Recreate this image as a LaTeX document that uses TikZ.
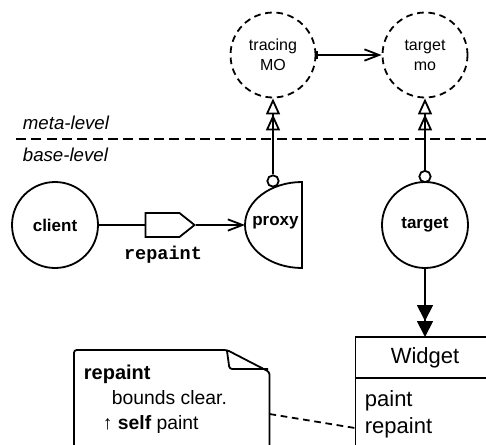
\documentclass[tikz,border=0pt]{standalone}
\usepackage{fontspec}
\setmainfont{Liberation Sans}
\setmonofont{Liberation Mono}
\usetikzlibrary{arrows.meta}
\usetikzlibrary{shapes.symbols}
\usetikzlibrary{positioning}
\usetikzlibrary{calc}

\begin{document}
\begin{tikzpicture}[x=0.75pt,y=0.75pt,yscale=-1,xscale=1,line width=1.35pt,
  obj/.style={circle,draw,minimum size=64.5pt,inner sep=0pt,font=\fontsize{12.75}{15}\selectfont\bfseries},
  metaobj/.style={circle,draw,dash pattern=on 5pt off 3.5pt,minimum size=63.75pt,inner sep=0pt,align=center,font=\fontsize{12}{15}\selectfont},
  lolly/.style={circle,draw,fill=white,minimum size=8.5pt,inner sep=0pt},
  metalink/.style={-{Triangle[open,length=12pt,width=10.5pt]Triangle[open,length=12pt,width=10.5pt]}},
  classlink/.style={-{Triangle[length=12pt,width=12pt]Triangle[length=12pt,width=12pt]}},
  barb/.style={-{Straight Barb[length=11pt,width=8.5pt]}},
  lvl/.style={anchor=base west,inner sep=0pt,font=\fontsize{14}{16}\selectfont\itshape},
  notetext/.style={anchor=base west,inner sep=0pt,font=\fontsize{14.5}{17}\selectfont},
  classtext/.style={anchor=base west,inner sep=0pt,font=\fontsize{16.5}{19}\selectfont}]
\useasboundingbox[fill=white] (0,0) rectangle (486,444);

%Shape: Circle (meta-level objects)
\node[metaobj] (tracing) at (273,55) {tracing\\MO};
\node[metaobj] (targetmo) at (425,55) {target\\mo};
%Straight Lines
\draw[{Bar[width=6pt]}-{Straight Barb[length=11pt,width=8.5pt]}] (tracing) -- (targetmo);

%Straight Lines (level separator)
\coordinate (sepl) at (16,139);
\coordinate (sepr) at (490,139);
\draw[dash pattern=on 7.5pt off 4pt] (sepl) -- (sepr);
% Text Node
\node[lvl] (metalbl) at (22,129) {meta-level};
% Text Node
\node[lvl] (baselbl) at (22,161) {base-level};

%Shape: Circle (base-level objects)
\node[obj] (client) at (55,225) {client};
\node[obj] (target) at (425,225) {target};
%Shape: Half Ellipse
\draw (302,182) arc[start angle=270,end angle=90,x radius=57,y radius=43] -- cycle;
\node[font=\fontsize{12.75}{15}\selectfont\bfseries,inner sep=0pt] (proxy) at (275.5,223) {proxy};
\coordinate (proxyw) at (245,225);

%Shape: Circle (meta links)
\node[lolly] (plolly) at (273,181) {};
\node[lolly] (tlolly) at (425,176.5) {};
\draw[metalink] (plolly) -- (tracing);
\draw[metalink] (tlolly) -- (targetmo);

%Shape: Signal (message)
\node[signal,signal to=east,draw,minimum width=36.75pt,minimum height=18pt,inner sep=0pt,signal pointer angle=77] (msg) at (162.5,225) {};
\draw (client) -- (msg);
\draw[barb] (msg) -- (proxyw);
% Text Node
\node[anchor=base,inner sep=0pt,font=\fontsize{13.9}{16}\selectfont\ttfamily\bfseries] (msglbl) at (163,259) {repaint};

%Shape: Rectangle (class)
\node[draw,outer sep=0pt,minimum width=104.25pt,minimum height=30.75pt,inner sep=0pt,font=\fontsize{16.5}{19}\selectfont] (widget) at (425,357.5) {Widget};
\node[draw,outer sep=0pt,minimum width=104.25pt,minimum height=75pt,anchor=north] (wbody) at (widget.south) {};
\node[classtext] (wpaint) at (364,406) {paint};
\node[classtext] (wrepaint) at (364,433) {repaint};
\draw[classlink] (target) -- (widget);

%Shape: Note
\draw[rounded corners=2pt] (74,470) -- (74,350) -- (227,350) -- (269.5,372) -- (269.5,470);
\draw[rounded corners=2pt] (227,351) -- (229.5,369) -- (268,369);
% Text Node
\node[notetext,font=\fontsize{15}{17}\selectfont\bfseries] (notehead) at (83,379) {repaint};
\node[notetext] (notebody) at (111,404) {bounds clear.};
\node[notetext] (notesend) at (102,429) {↑ \textbf{self} paint};
%Straight Lines (note link)
\coordinate (noter) at (269.5,414);
\coordinate (wbodyl) at (355,428);
\draw[dash pattern=on 5pt off 3.5pt] (noter) -- (wbodyl);

\end{tikzpicture}
\end{document}
